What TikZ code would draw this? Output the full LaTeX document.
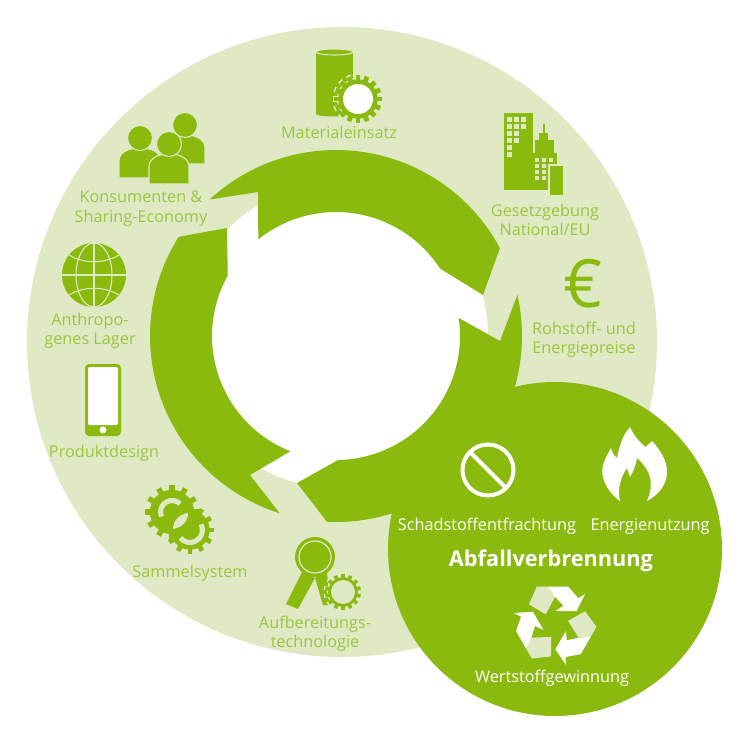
\documentclass[tikz,border=0pt]{standalone}
\usepackage{fontspec}
\setmainfont{Open Sans}
\usepackage{tikz}
\definecolor{leafgreen}{HTML}{8ABA0D}
\definecolor{palegreen}{HTML}{DFEAC5}
\definecolor{captiongreen}{HTML}{9CC53F}
\tikzset{itemtext/.style={inner sep=0pt, align=center, text=captiongreen, font=\fontsize{12.2}{14.4}\selectfont},
         circletext/.style={inner sep=0pt, align=center, text=white, font=\fontsize{12.2}{14.4}\selectfont},
         solid icon/.style={fill=leafgreen},
         pale line/.style={draw=palegreen, line width=0.8pt}}
% x, y, radius, teeth, colour
\newcommand{\gearicon}[5]{
        \foreach \i in {1,...,#4} {
            \fill[#5, rotate around={\i*360/#4:(#1,#2)}] (#1-#3*0.1,#2) rectangle (#1+#3*0.1,#2-#3);
        }
        \fill[#5] (#1,#2) circle ({0.82*#3});
}
% head x, head y, half width, bottom
\newcommand{\personicon}[4]{
        \filldraw[solid icon, pale line] (#1-#3,#4) -- (#1-#3,#2+23) .. controls (#1-#3,#2+15) and (#1-#3*0.6,#2+10) .. (#1,#2+10) .. controls (#1+#3*0.6,#2+10) and (#1+#3,#2+15) .. (#1+#3,#2+23) -- (#1+#3,#4) -- cycle;
        \filldraw[solid icon, pale line] (#1,#2) circle (12.5);
}
\begin{document}
\begin{tikzpicture}[x=0.75pt, y=0.75pt, yscale=-1]
        \useasboundingbox (0,0) rectangle (750,735);
        \fill[palegreen] (342,342) circle (315);
        \fill[white] (336,336) circle (152);

        % the three arrows of the ring
        \begin{scope}[shift={(336,336)}]
            \fill[solid icon] (-132.8:186) arc[start angle=-132.8, end angle=-28.2, radius=186] -- (147,-41) -- (-32.9:124) arc[start angle=-32.9, end angle=-128.8, radius=124] -- (-78,-144) -- cycle;
            \fill[solid icon] (-12.8:186) arc[start angle=-12.8, end angle=92.8, radius=186] -- (-39,147) -- (89:124) arc[start angle=89, end angle=-8.4, radius=124] -- (164,5) -- cycle;
            \fill[solid icon] (107.6:186) arc[start angle=107.6, end angle=212.2, radius=186] -- (-109,-108) -- (209.2:124) arc[start angle=209.2, end angle=111.6, radius=124] -- (-86,139) -- cycle;
        \end{scope}
        \fill[solid icon] (555,549) circle (167);

        % Materialeinsatz
        \fill[solid icon] (316,52) rectangle (353,114);
        \fill[solid icon] (334.5,114) ellipse (18.5 and 2.5);
        \filldraw[solid icon, pale line] (334.5,52) ellipse (18.5 and 3);
        \gearicon{358}{99}{25.5}{16}{palegreen}
        \gearicon{358}{99}{24}{16}{leafgreen}
        \fill[white] (358,99) circle (15);
        \node[itemtext] (material) at (339,132) {Materialeinsatz};

        % Konsumenten
        \personicon{185}{125}{20}{164}
        \personicon{140}{138}{21}{178}
        \personicon{169}{144}{20}{184}
        \node[itemtext] (konsumenten) at (141,208.5) {Konsumenten \&\\Sharing-Economy};

        % Gesetzgebung
        \fill[solid icon] (504,113) rectangle (533,190);
        \fill[solid icon] (533,153) rectangle (557,190);
        \fill[solid icon] (535,140) rectangle (554,153);
        \fill[solid icon] (539,133) rectangle (548,140);
        \fill[solid icon] (543,124) rectangle (545,133);
        \foreach \wx/\wy in {507/117,514/117,521/117,507/124,514/124,521/124,507/131,514/131,507/138,514/138,507/145,507/152} {
            \fill[palegreen] (\wx,\wy) rectangle +(5,5);
        }
        \foreach \wx in {534.5,541.5,549} {
            \foreach \wy in {158,164,170,176} {
                \fill[palegreen] (\wx,\wy) rectangle +(4,4);
            }
        }
        \filldraw[solid icon, draw=palegreen, line width=1.1pt] (549,165) rectangle (564,196);
        \node[itemtext] (gesetz) at (545,219.5) {Gesetzgebung\\National/EU};

        % Rohstoff
        \node[inner sep=0pt, text=leafgreen, font=\fontsize{50}{50}\selectfont] (euro) at (583,284) {€};
        \node[itemtext] (rohstoff) at (584,340) {Rohstoff- und\\Energiepreise};

        % Anthropogenes Lager
        \fill[solid icon] (94,275) circle (32);
        \draw[pale line] (94,243) -- (94,307) (62,275) -- (126,275);
        \draw[pale line] (94,275) ellipse (18 and 32);
        \draw[pale line] (69,255) .. controls (84,264) and (104,264) .. (119,255);
        \draw[pale line] (69,295) .. controls (84,286) and (104,286) .. (119,295);
        \node[itemtext] (lager) at (90,331) {Anthropo-\\genes Lager};

        % Produktdesign
        \fill[solid icon, rounded corners=3pt] (85,364) rectangle (121,436);
        \fill[white, rounded corners=1pt] (88,367) rectangle (118,425);
        \fill[white] (103,430) circle (3.5);
        \node[itemtext] (produkt) at (104,453) {Produktdesign};

        % Sammelsystem
        \gearicon{172}{512}{27}{12}{leafgreen}
        \gearicon{190}{530}{24}{12}{leafgreen}
        \draw[palegreen, line width=3.8pt] (172,512) ++(157:11.5) arc[start angle=157, end angle=315, radius=11.5];
        \draw[palegreen, line width=3.8pt] (190,530) ++(-27:12.5) arc[start angle=-27, end angle=140, radius=12.5];
        \fill[palegreen] (173,529) .. controls (173,520) and (180,514) .. (188,513) .. controls (188,522) and (181,528) .. (173,529) -- cycle;
        \node[itemtext] (sammel) at (190,573) {Sammelsystem};

        % Aufbereitungstechnologie
        \fill[solid icon] (302,572) -- (286,604) -- (298,609) -- (315,578) -- cycle;
        \fill[solid icon] (315,578) -- (323,605) -- (330,605) -- (327,572) -- cycle;
        \fill[solid icon] (315,557) circle (20);
        \draw[palegreen, line width=0.9pt] (315,557) circle (16);
        \gearicon{343}{592}{19.5}{14}{palegreen}
        \gearicon{343}{592}{18}{14}{leafgreen}
        \fill[palegreen] (343,592) circle (12);
        \node[itemtext] (aufbereitung) at (315,633.5) {Aufbereitungs-\\technologie};

        % Schadstoffentfrachtung
        \draw[white, line width=3pt] (488,470) circle (25.5);
        \draw[white, line width=3pt] (470,452) -- (506,488);
        \node[circletext] (schadstoff) at (487,526) {Schadstoffentfrachtung};

        % Energienutzung
        \fill[white] (620,501) .. controls (605,490) and (600,475) .. (603,465) .. controls (605,458) and (609,452) .. (611,448) .. controls (612,452) and (614,456) .. (617,458) .. controls (619,448) and (622,436) .. (630,427) .. controls (633,435) and (640,442) .. (645,447) .. controls (647,446) and (650,443) .. (652,441) .. controls (660,450) and (667,460) .. (667,472) .. controls (667,485) and (658,495) .. (647,501) .. controls (652,490) and (652,478) .. (647,470) .. controls (644,465) and (640,460) .. (637,458) .. controls (636,465) and (633,472) .. (630,477) .. controls (629,474) and (628,471) .. (627,468) .. controls (621,476) and (617,490) .. (620,501) -- cycle;
        \node[circletext] (energie) at (650,526) {Energienutzung};

        \node[circletext, font=\fontsize{16.3}{19}\selectfont\bfseries] (abfall) at (551,560.5) {Abfallverbrennung};

        % Wertstoffgewinnung
        \foreach \a in {0,120,240} {
            \begin{scope}[shift={(555,624)}, rotate=\a]
                \fill[palegreen] (-26,-19.7) -- (-9.3,-9.7) -- (0,-27.3) -- (-6.7,-37.3) -- (-18.3,-37.3) -- cycle;
                \fill[white] (-6.7,-37.3) -- (13.3,-37.3) -- (23.3,-25.7) -- (30,-30) -- (21.7,-13) -- (0.7,-13) -- (8.3,-18.3) -- (0,-27.3) -- cycle;
            \end{scope}
        }
        \node[circletext] (wertstoff) at (552,678) {Wertstoffgewinnung};
\end{tikzpicture}
\end{document}
